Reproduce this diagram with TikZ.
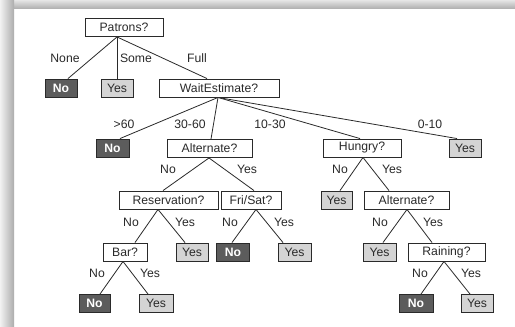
\documentclass[tikz,border=0pt]{standalone}
\usepackage{fontspec}
\setmainfont{Liberation Sans}
\usetikzlibrary{calc}
\definecolor{ink}{HTML}{2A2A2A}
\definecolor{darkfill}{HTML}{5C5C5C}
\definecolor{lightfill}{HTML}{D4D4D4}
\newcommand\tedge[4]{\draw[edgeline] ($(#1.south)+(#2,0)$) -- ($(#3.north)+(#4,0)$);}
\begin{document}
\begin{tikzpicture}[x=1pt,y=-1pt,
  every node/.style={font=\fontsize{12.2}{14}\selectfont, text=ink},
  qbox/.style={draw=ink, line width=0.9pt, fill=white, inner sep=0pt, minimum height=18pt},
  nobox/.style={qbox, fill=darkfill, text=white, font=\fontsize{12.2}{14}\selectfont\bfseries},
  yesbox/.style={qbox, fill=lightfill},
  lbl/.style={inner sep=0pt},
  edgeline/.style={draw=ink, line width=0.8pt}]
\useasboundingbox (0,0) rectangle (515,327);
\fill[white] (0,0) rectangle (515,327);
\shade[top color=gray!20, bottom color=gray!60] (0,0) rectangle (515,8);
\shade[left color=gray!10, right color=gray!65] (0,0) rectangle (14,327);

% nodes
\node[qbox, minimum width=78pt] (P) at (124,27.5) {Patrons?};
\node[nobox, minimum width=32pt] (n1) at (61,88) {No};
\node[yesbox, minimum width=32pt] (y1) at (117,88) {Yes};
\node[qbox, minimum width=120pt] (W) at (219,88) {WaitEstimate?};
\node[nobox, minimum width=33pt] (n2) at (112.5,148) {No};
\node[qbox, minimum width=85pt] (A1) at (209.5,148.5) {Alternate?};
\node[qbox, minimum width=78pt] (H) at (362,148) {Hungry?};
\node[yesbox, minimum width=32pt] (y2) at (465,148) {Yes};
\node[qbox, minimum width=99pt] (R) at (168.5,200) {Reservation?};
\node[qbox, minimum width=60pt] (F) at (251,200) {Fri/Sat?};
\node[yesbox, minimum width=31pt] (y3) at (336.5,200) {Yes};
\node[qbox, minimum width=85pt] (A2) at (406.5,200) {Alternate?};
\node[qbox, minimum width=44pt] (B) at (125,252) {Bar?};
\node[yesbox, minimum width=32pt] (y4) at (192,252) {Yes};
\node[nobox, minimum width=33pt] (n3) at (233,252) {No};
\node[yesbox, minimum width=33pt] (y5) at (294.5,252) {Yes};
\node[yesbox, minimum width=33pt] (y6) at (379.5,252) {Yes};
\node[qbox, minimum width=77pt] (Rn) at (446.5,252) {Raining?};
\node[nobox, minimum width=31pt] (n4) at (94.5,303.5) {No};
\node[yesbox, minimum width=34pt] (y7) at (156,303.5) {Yes};
\node[nobox, minimum width=34pt] (n5) at (416,303.5) {No};
\node[yesbox, minimum width=32pt] (y8) at (477,303.5) {Yes};

% edges
\tedge{P}{-7}{n1}{7}
\tedge{P}{-7}{y1}{0}
\tedge{P}{-7}{W}{-12}
\tedge{W}{-1}{n2}{7.5}
\tedge{W}{-1}{A1}{1.5}
\tedge{W}{-1}{H}{-2}
\tedge{W}{-1}{y2}{-8}
\tedge{A1}{-0.5}{R}{-5.5}
\tedge{A1}{-0.5}{F}{3}
\tedge{H}{1}{y3}{3.5}
\tedge{H}{1}{A2}{-17.5}
\tedge{R}{-10.5}{B}{10}
\tedge{R}{-10.5}{y4}{-7}
\tedge{F}{5}{n3}{-1}
\tedge{F}{5}{y5}{-11.5}
\tedge{A2}{0.5}{y6}{3.5}
\tedge{A2}{0.5}{Rn}{-14.5}
\tedge{B}{-2}{n4}{5.5}
\tedge{B}{-2}{y7}{-8}
\tedge{Rn}{-2.5}{n5}{5}
\tedge{Rn}{-2.5}{y8}{-7}

% labels
\node[lbl] (l1) at (65,58) {None};
\node[lbl] (l2) at (136,58) {Some};
\node[lbl] (l3) at (197,58) {Full};
\node[lbl] (l4) at (124,124) {>60};
\node[lbl] (l5) at (190,124) {30-60};
\node[lbl] (l6) at (270,124) {10-30};
\node[lbl] (l7) at (430,124) {0-10};
\node[lbl] (l8) at (168,169) {No};
\node[lbl] (l9) at (247,169) {Yes};
\node[lbl] (l10) at (340,169) {No};
\node[lbl] (l11) at (392,169) {Yes};
\node[lbl] (l12) at (131,222) {No};
\node[lbl] (l13) at (185,222) {Yes};
\node[lbl] (l14) at (230,222) {No};
\node[lbl] (l15) at (284,222) {Yes};
\node[lbl] (l16) at (380,222) {No};
\node[lbl] (l17) at (433,222) {Yes};
\node[lbl] (l18) at (97,273) {No};
\node[lbl] (l19) at (150,273) {Yes};
\node[lbl] (l20) at (420,273) {No};
\node[lbl] (l21) at (471,273) {Yes};
\end{tikzpicture}
\end{document}
